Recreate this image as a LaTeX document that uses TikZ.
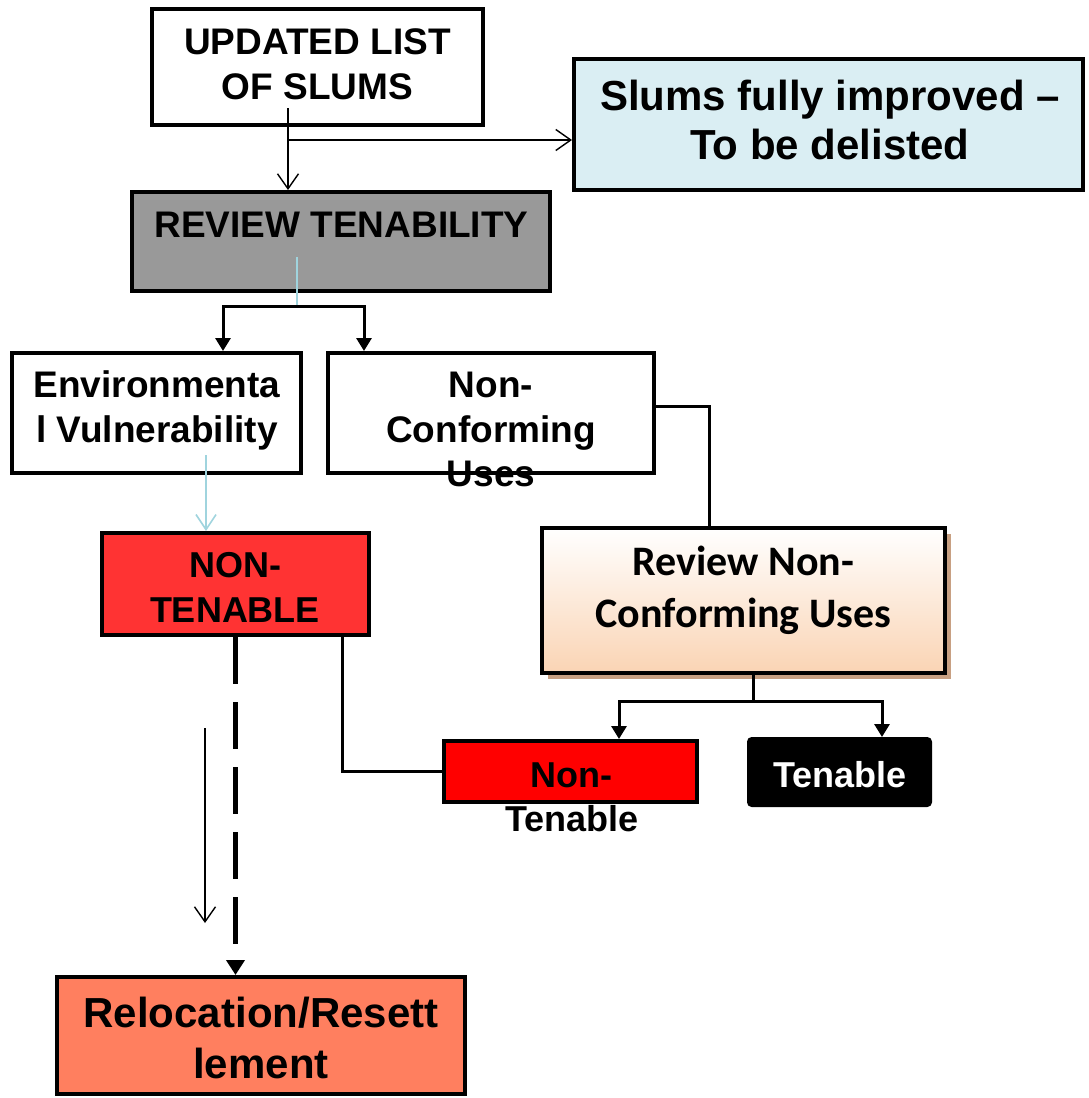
\documentclass[tikz,border=0pt]{standalone}
\usepackage{fontspec}
\setmainfont{Liberation Sans}
\newfontfamily\calfont{Carlito}
\usetikzlibrary{arrows.meta,calc}

\definecolor{paleblue}{RGB}{218,238,243}
\definecolor{paleline}{RGB}{160,212,222}
\definecolor{midgray}{RGB}{153,153,153}
\definecolor{lightred}{RGB}{255,51,51}
\definecolor{coral}{RGB}{255,127,95}
\definecolor{peach}{RGB}{250,212,180}
\definecolor{shadowtan}{RGB}{200,160,130}

\begin{document}
\begin{tikzpicture}[x=1pt,y=-1pt,
  box/.style={draw=black, line width=4pt, rectangle, inner sep=0pt},
  txt/.style={inner sep=0pt, anchor=base, font=\bfseries\fontsize{37}{44}\selectfont},
  bigtxt/.style={txt, font=\bfseries\fontsize{42}{50}\selectfont},
  caltxt/.style={inner sep=0pt, anchor=base, font=\calfont\bfseries\fontsize{42}{50}\selectfont},
  thinline/.style={draw=black, line width=1.4pt},
  pale/.style={draw=paleline, line width=1.6pt},
  branch/.style={draw=black, line width=3pt},
  barb/.style={-{Straight Barb[length=15pt,width=21pt]}},
  tri/.style={-{Triangle[length=13pt,width=15pt]}},
  dashline/.style={draw=black, line width=5pt, dash pattern=on 47pt off 18pt}
]
\useasboundingbox (0,0) rectangle (1088,1098);

% ---- boxes ----
\node[box, fill=white, minimum width=331pt, minimum height=116pt] (upd) at (317.5,67) {};
\node[box, fill=paleblue, minimum width=509pt, minimum height=131pt] (delist) at (828.5,124.5) {};
\node[box, fill=midgray, minimum width=418pt, minimum height=99pt] (review) at (341,241.5) {};
\node[box, fill=white, minimum width=289pt, minimum height=120pt] (env) at (156.5,413) {};
\node[box, fill=white, minimum width=326pt, minimum height=120pt] (ncu) at (491,413) {};
\node[box, fill=lightred, minimum width=267pt, minimum height=102pt] (nten) at (235.5,584) {};
\fill[shadowtan] (548,534) rectangle (951,679);
\node[box, line width=3.5pt, top color=white, bottom color=peach, minimum width=403pt, minimum height=145pt] (rnc) at (743.5,600.5) {};
\node[box, fill=red, minimum width=253pt, minimum height=61pt] (ntn) at (570.5,771.5) {};
\node[box, fill=black, rounded corners=3pt, minimum width=181pt, minimum height=66pt] (ten) at (839.5,772) {};
\node[box, fill=coral, minimum width=408pt, minimum height=117pt] (reloc) at (261,1035.5) {};

% ---- texts ----
\node[txt] (updA) at (317.5,54) {UPDATED LIST};
\node[txt] (updB) at (317.5,99) {OF SLUMS};
\node[bigtxt] (delA) at (830,110) {Slums fully improved –};
\node[bigtxt] (delB) at (830,159) {To be delisted};
\node[txt] (revA) at (341.5,237) {REVIEW TENABILITY};
\node[txt] (envA) at (157,397) {Environmenta};
\node[txt] (envB) at (157,442) {l Vulnerability};
\node[txt] (ncuA) at (491,397) {Non-};
\node[txt] (ncuB) at (491,442) {Conforming};
\node[txt] (ncuC) at (491,486) {Uses};
\node[txt, font=\bfseries\fontsize{36}{44}\selectfont] (ntenA) at (235,577) {NON-};
\node[txt, font=\bfseries\fontsize{36}{44}\selectfont] (ntenB) at (235,622) {TENABLE};
\node[caltxt] (rncA) at (743.5,575) {Review Non-};
\node[caltxt] (rncB) at (743.5,627) {Conforming Uses};
\node[txt, font=\bfseries\fontsize{36}{44}\selectfont] (ntnA) at (571,787) {Non-};
\node[txt, font=\bfseries\fontsize{36}{44}\selectfont] (ntnB) at (572,831) {Tenable};
\node[txt, font=\bfseries\fontsize{36}{44}\selectfont, text=white] (tenA) at (840,787) {Tenable};
\node[bigtxt] (relA) at (261,1027) {Relocation/Resett};
\node[bigtxt] (relB) at (261,1078) {lement};

% ---- connectors ----
% list box to review and to delisting
\coordinate (updstem) at (288,108);
\coordinate (updfork) at (288,140);
\draw[thinline, barb] (updstem) -- (updstem |- review.north);
\draw[thinline, barb] (updfork) -- (updfork -| delist.west);

% review fork to the two categories
\coordinate (revstem) at (297,257);
\coordinate (revfork) at (297,306);
\coordinate (envin) at ($(env.north)+(66.5,0)$);
\coordinate (ncuin) at ($(ncu.north)+(-127,0)$);
\draw[pale] (revstem) -- (revfork);
\draw[branch, tri] (revfork) -| (envin);
\draw[branch, tri] (revfork) -| (ncuin);

% environmental vulnerability to non-tenable
\coordinate (envstem) at (206,455);
\draw[pale, -{Straight Barb[length=15pt,width=20pt]}] (envstem) -- (envstem |- nten.north);

% non-conforming uses to its review
\coordinate (ncuout) at ($(ncu.east)+(0,-7)$);
\coordinate (rncin) at ($(rnc.north)+(-34.5,0)$);
\draw[branch] (ncuout) -| (rncin);

% review of non-conforming uses splits in two
\coordinate (rncout) at ($(rnc.south)+(9.5,0)$);
\coordinate (rncfork) at ($(rncout)+(0,27)$);
\coordinate (ntnin) at ($(ntn.north)+(48.5,0)$);
\coordinate (tenin) at ($(ten.north)+(42.5,0)$);
\draw[branch] (rncout) -- (rncfork);
\draw[branch, tri] (rncfork) -| (ntnin);
\draw[branch, tri] (rncfork) -| (tenin);

% non-tenable joins the small non-tenable box
\coordinate (ntenout) at ($(nten.south)+(106.5,0)$);
\draw[branch] (ntenout) |- (ntn.west);

% non-tenable to relocation
\draw[dashline, -{Triangle[length=15pt,width=18pt]}] (nten.south) -- (nten.south |- reloc.north);

% loose arrow beside the dashed one
\coordinate (freeA) at (205,728);
\coordinate (freeB) at (205,923);
\draw[thinline, barb] (freeA) -- (freeB);
\end{tikzpicture}
\end{document}
